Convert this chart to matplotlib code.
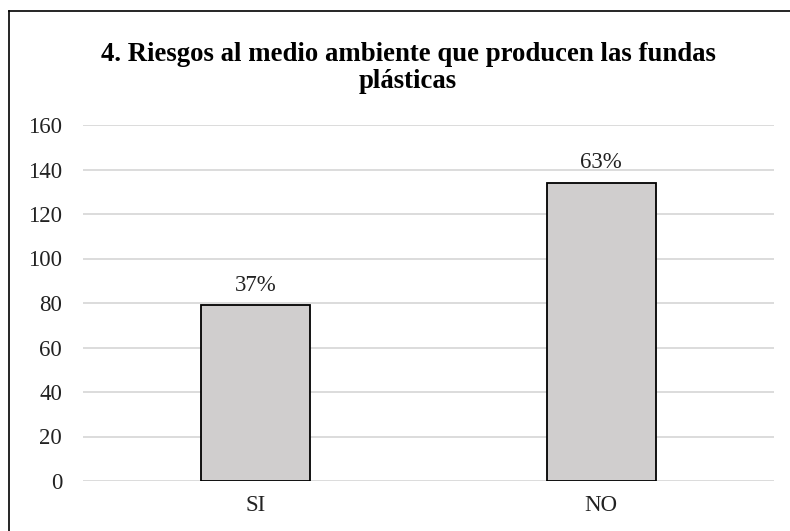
import matplotlib.pyplot as plt
from matplotlib.lines import Line2D

categories = ["SI", "NO"]
values = [79, 134]
labels = ["37%", "63%"]
title = "4. Riesgos al medio ambiente que producen las fundas\nplásticas"

plt.rcParams['font.family'] = ['Liberation Serif', 'DejaVu Serif']

fig = plt.figure(figsize=(7.9, 5.31), dpi=100)
ax = fig.add_axes([83 / 790, 1 - 481 / 531, 691 / 790, 356 / 531])

x = range(len(categories))
bars = ax.bar(x, values, width=0.315, color='#d0cece', edgecolor='black', linewidth=1.3, zorder=3)
for b, lab in zip(bars, labels):
    ax.text(b.get_x() + b.get_width() / 2, b.get_height() + 6.5, lab,
            ha='center', va='baseline', fontsize=16.5, color='#222222')

ax.set_xlim(-0.5, 1.5)
ax.set_ylim(0, 160)
ax.set_yticks(range(0, 161, 20))
ax.set_xticks(list(x))
ax.set_xticklabels(categories)
ax.tick_params(axis='both', length=0, labelsize=16.5, colors='#222222')
ax.tick_params(axis='y', pad=15)
ax.tick_params(axis='x', pad=10)
ax.grid(axis='y', color='#d9d9d9', linewidth=1.3, zorder=0)
for s in ax.spines.values():
    s.set_visible(False)

fig.text(408 / 790, 1 - 68 / 531, title, ha='center', va='center',
         fontsize=19.3, fontweight='bold', linespacing=1.12)

# chart border (top and left visible)
fig.add_artist(Line2D([8.5 / 790, 1], [1 - 11 / 531, 1 - 11 / 531], color='black', linewidth=1.2))
fig.add_artist(Line2D([8.5 / 790, 8.5 / 790], [0, 1 - 11 / 531], color='black', linewidth=1.2))

fig.savefig('out.png', dpi=100)
